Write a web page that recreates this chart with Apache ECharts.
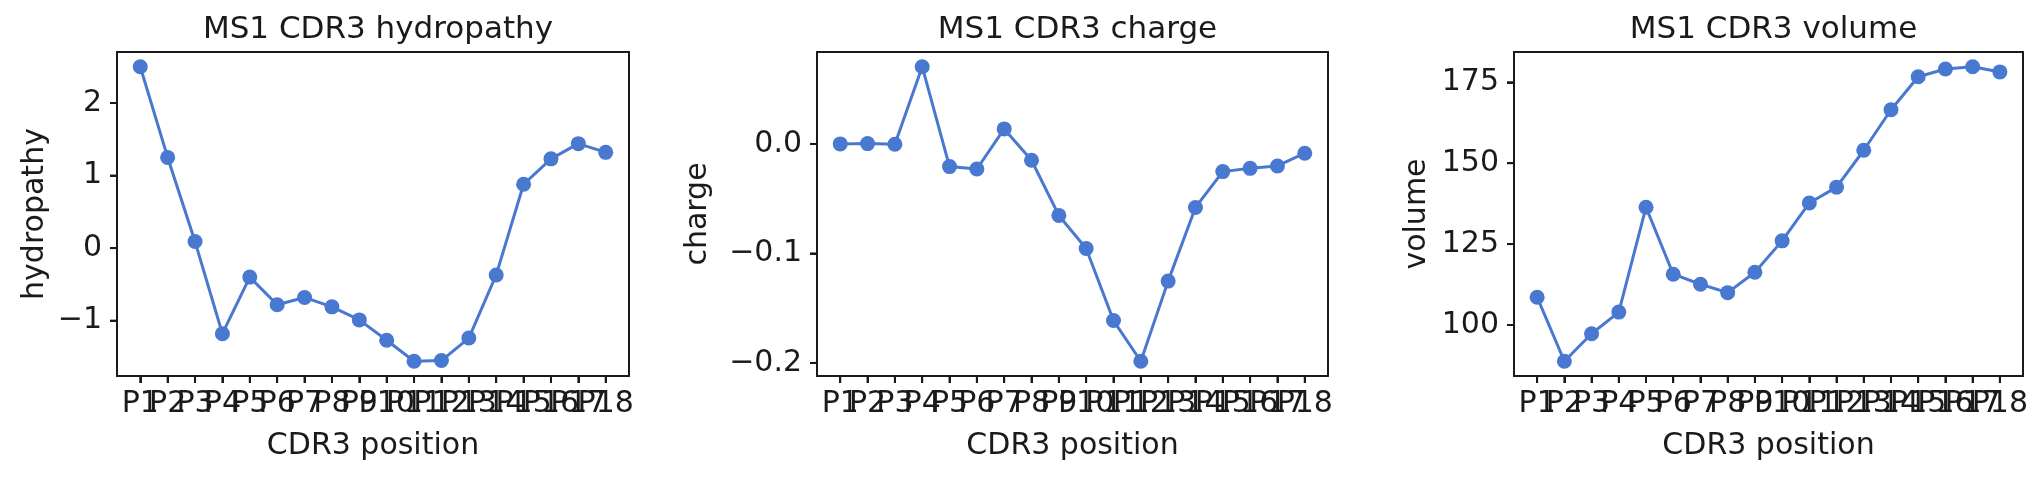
<!DOCTYPE html>
<html><head><meta charset="utf-8">
<script src="https://cdn.jsdelivr.net/npm/echarts@6/dist/echarts.min.js"></script>
<style>html,body{margin:0;padding:0;background:#fff}#c{width:2044px;height:478px}</style>
</head><body><div id="c"></div>
<script>
const positions = ['P1','P2','P3','P4','P5','P6','P7','P8','P9','P10','P11','P12','P13','P14','P15','P16','P17','P18'];
const hydropathy = [2.50,1.25,0.09,-1.18,-0.40,-0.78,-0.68,-0.81,-0.99,-1.27,-1.56,-1.55,-1.24,-0.37,0.88,1.23,1.44,1.32];
const charge = [0.0,0.0003,-0.0003,0.0705,-0.0207,-0.0229,0.0137,-0.0149,-0.0653,-0.0955,-0.1613,-0.1985,-0.1253,-0.0580,-0.0253,-0.0223,-0.0201,-0.0085];
const volume = [108.6,88.8,97.3,104.0,136.4,115.7,112.6,110.0,116.3,126.0,137.7,142.6,154.0,166.5,176.7,179.1,179.8,178.2];
const hydroTicks = [-1,0,1,2];
const chargeTicks = [-0.2,-0.1,0.0];
const volumeTicks = [100,125,150,175];
const titles = ['MS1 CDR3 hydropathy','MS1 CDR3 charge','MS1 CDR3 volume'];
const yNames = ['hydropathy','charge','volume'];
const xName = 'CDR3 position';

const FONT = 'DejaVu Sans';
const TXT = '#1a1a1a';
const LINE = '#1a1a1a';
const BLUE = '#4878d0';
const TICK_LEN = 7;
const panels = [
  {left:117, width:512, data:hydropathy, ticks:hydroTicks, dec:0, gap:67},
  {left:817, width:511, data:charge, ticks:chargeTicks, dec:1, gap:104},
  {left:1514, width:509, data:volume, ticks:volumeTicks, dec:0, gap:82}
];
const TOP = 52, H = 324;
const XMIN = -0.85, XMAX = positions.length - 1 + 0.85;

function fmt(v, d){ return v.toFixed(d).replace('-', '\u2212'); }
function xLabel(v){ const k = Math.round(v); return (Math.abs(v-k) < 1e-6 && positions[k]) ? positions[k] : ''; }
function yRange(d){ const mn = Math.min(...d), mx = Math.max(...d), r = mx-mn; return [mn-0.05*r, mx+0.05*r]; }

const spine = {show:true, onZero:false, lineStyle:{color:LINE, width:2}};
const xAxes = [], yAxes = [], series = [];
panels.forEach((p,i)=>{
  const idx = positions.map((q,k)=>k);
  const slots = [-0.5].concat(positions.map((q,k)=>k), [positions.length - 0.5]);
  const yr = yRange(p.data);
  xAxes.push({type:'value', gridIndex:i, min:XMIN, max:XMAX, position:'bottom',
    name:xName, nameLocation:'middle', nameGap:55,
    nameTextStyle:{fontFamily:FONT, fontSize:30, color:TXT},
    axisLine:spine, splitLine:{show:false},
    axisTick:{show:true, length:TICK_LEN, customValues:idx, lineStyle:{color:LINE, width:2}},
    axisLabel:{customValues:slots, showMinLabel:false, showMaxLabel:false, margin:13, fontFamily:FONT, fontSize:30, color:TXT,
      formatter:xLabel}});
  yAxes.push({type:'value', gridIndex:i, min:yr[0], max:yr[1], position:'left',
    name:yNames[i], nameLocation:'middle', nameGap:p.gap, nameRotate:90,
    nameTextStyle:{fontFamily:FONT, fontSize:30, color:TXT},
    axisLine:spine, splitLine:{show:false},
    axisTick:{show:true, length:TICK_LEN, customValues:p.ticks.slice(), lineStyle:{color:LINE, width:2}},
    axisLabel:{customValues:p.ticks.slice(), margin:15, fontFamily:FONT, fontSize:30, color:TXT,
      formatter:v=>fmt(v,p.dec)}});
  series.push({type:'line', xAxisIndex:i, yAxisIndex:i, z:3,
    data:p.data.map((v,j)=>[j,v]), symbol:'circle', symbolSize:15, showSymbol:true,
    lineStyle:{color:BLUE, width:3}, itemStyle:{color:BLUE}});
  // outward tick marks on the bottom axis, placed through the axis scale
  series.push({type:'custom', xAxisIndex:i, yAxisIndex:i, silent:true, clip:false, z:4,
    data:positions.map((q,k)=>[k, yr[0]]),
    renderItem:(params, api)=>{
      const pt = api.coord([api.value(0), api.value(1)]);
      return {type:'line', shape:{x1:pt[0], y1:pt[1], x2:pt[0], y2:pt[1]+TICK_LEN}, style:{stroke:LINE, lineWidth:2}};
    }});
  // outward tick marks on the left axis
  series.push({type:'custom', xAxisIndex:i, yAxisIndex:i, silent:true, clip:false, z:4,
    data:p.ticks.map(t=>[XMIN, t]),
    renderItem:(params, api)=>{
      const pt = api.coord([api.value(0), api.value(1)]);
      return {type:'line', shape:{x1:pt[0]-TICK_LEN, y1:pt[1], x2:pt[0], y2:pt[1]}, style:{stroke:LINE, lineWidth:2}};
    }});
});
// top / right frame lines
panels.forEach((p,i)=>{
  const yr = yRange(p.data);
  xAxes.push({type:'value', gridIndex:i, min:XMIN, max:XMAX, position:'top', axisLine:spine,
    axisTick:{show:false}, axisLabel:{show:false}, splitLine:{show:false}});
  yAxes.push({type:'value', gridIndex:i, min:yr[0], max:yr[1], position:'right', axisLine:spine,
    axisTick:{show:false}, axisLabel:{show:false}, splitLine:{show:false}});
});

const option = {
  animation:false,
  backgroundColor:'#fff',
  title: panels.map((p,i)=>({text:titles[i], left:p.left+p.width/2, textAlign:'center', top:9,
    textStyle:{fontFamily:FONT, fontSize:31, fontWeight:'normal', color:TXT}})),
  grid: panels.map(p=>({left:p.left, top:TOP, width:p.width, height:H, show:false})),
  xAxis: xAxes,
  yAxis: yAxes,
  series: series
};
const chart = echarts.init(document.getElementById('c'), null, {renderer:'canvas'});
chart.setOption(option);
</script></body></html>
